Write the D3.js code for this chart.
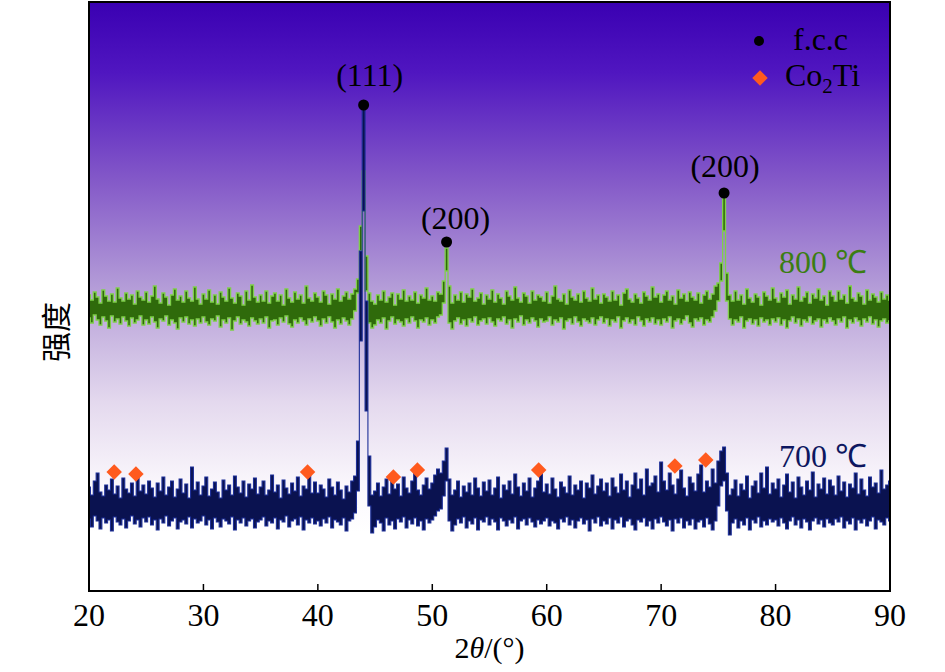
<!DOCTYPE html>
<html lang="zh">
<head>
<meta charset="UTF-8">
<script src="https://d3js.org/d3.v7.min.js"></script>
<style>
  body { margin: 0; background: #fff; }
  .serif { font-family: "Liberation Serif", "Times New Roman", serif; }
</style>
</head>
<body>
<svg id="chart" width="945" height="672"></svg>
<script>
// 2theta grid of the scans (degrees)
const twoThetaStart = 20;
const twoThetaStep = 0.25;

// 800 C scan: top and bottom edge of the noisy trace (a.u.)
const upper800 = [
  296, 291, 299, 294, 288, 301, 295, 290, 297, 289, 303, 293, 290, 298, 292, 296, 287, 300, 294, 291,
  299, 289, 295, 305, 292, 288, 298, 294, 286, 296, 302, 291, 295, 289, 300, 293, 290, 304, 292, 287,
  297, 292, 301, 289, 296, 287, 299, 294, 290, 303, 293, 288, 298, 295, 286, 300, 291, 306, 294, 289,
  296, 290, 300, 288, 295, 298, 290, 296, 286, 302, 293, 289, 299, 292, 296, 288, 305, 293, 290, 298,
  294, 289, 300, 296, 287, 297, 292, 302, 290, 295, 299, 292, 297, 302, 312, 365, 420, 335, 298, 290,
  287, 296, 291, 300, 289, 294, 298, 286, 297, 292, 301, 290, 295, 291, 299, 288, 296, 293, 303, 291,
  295, 290, 299, 297, 310, 343, 305, 288, 296, 291, 299, 289, 297, 294, 302, 290, 293, 298, 287, 296,
  292, 301, 289, 297, 293, 287, 300, 295, 291, 304, 293, 289, 298, 295, 288, 300, 291, 296, 294, 290,
  299, 288, 295, 305, 292, 290, 297, 287, 301, 294, 291, 297, 289, 300, 293, 290, 303, 292, 296, 288,
  297, 294, 290, 300, 291, 296, 286, 298, 302, 292, 289, 297, 293, 288, 299, 295, 291, 304, 294, 297,
  289, 296, 300, 291, 295, 287, 301, 293, 297, 290, 299, 294, 291, 298, 288, 296, 300, 292, 297, 305,
  308, 328, 395, 318, 296, 290, 300, 291, 296, 287, 302, 293, 289, 297, 294, 286, 299, 295, 291, 303,
  293, 289, 298, 294, 301, 287, 296, 292, 304, 290, 294, 299, 288, 297, 293, 302, 291, 295, 286, 300,
  295, 290, 300, 292, 296, 288, 305, 293, 290, 298, 295, 287, 301, 291, 297, 294, 289, 299, 292, 296,
  291
];
const lower800 = [
  273, 268, 276, 271, 266, 274, 270, 263, 275, 269, 272, 267, 274, 270, 265, 273, 268, 271, 275, 266,
  271, 267, 274, 269, 263, 272, 270, 275, 266, 271, 268, 262, 273, 269, 274, 267, 271, 265, 272, 268,
  274, 269, 266, 272, 270, 275, 264, 271, 268, 273, 261, 270, 274, 267, 271, 269, 265, 273, 270, 267,
  272, 268, 274, 263, 270, 271, 266, 273, 269, 275, 267, 264, 271, 268, 273, 270, 266, 272, 269, 274,
  270, 265, 272, 268, 274, 269, 263, 271, 267, 273, 270, 266, 272, 280, 298, 340, 380, 300, 268, 263,
  266, 271, 268, 273, 262, 270, 274, 267, 271, 269, 265, 272, 268, 274, 270, 263, 271, 269, 273, 266,
  271, 268, 274, 276, 288, 320, 268, 262, 270, 273, 267, 271, 265, 272, 269, 274, 266, 270, 272, 267,
  273, 269, 265, 272, 270, 274, 267, 271, 263, 272, 269, 275, 266, 271, 268, 273, 270, 264, 272, 269,
  270, 274, 266, 271, 269, 273, 262, 270, 272, 267, 274, 269, 265, 272, 270, 268, 273, 266, 271, 274,
  268, 272, 265, 271, 269, 274, 263, 270, 273, 268, 271, 266, 274, 270, 265, 272, 269, 273, 267, 271,
  266, 272, 269, 274, 263, 270, 272, 267, 271, 275, 268, 264, 272, 270, 273, 266, 271, 269, 274, 280,
  290, 310, 360, 290, 272, 266, 271, 269, 274, 263, 270, 272, 267, 271, 265, 273, 269, 271, 266, 272,
  269, 273, 266, 271, 263, 270, 274, 268, 272, 265, 271, 269, 274, 267, 270, 272, 264, 271, 268, 273,
  270, 266, 272, 269, 274, 263, 271, 268, 273, 270, 265, 272, 269, 274, 267, 271, 264, 270, 272, 268,
  270
];

// 700 C scan: top and bottom edge of the noisy trace (a.u.)
const upper700 = [
  104, 96, 110, 118, 99, 95, 106, 101, 112, 97, 105, 93, 113, 102, 98, 108, 95, 114, 100, 106,
  97, 110, 103, 94, 108, 100, 114, 96, 104, 110, 94, 102, 112, 98, 107, 93, 124, 101, 109, 96,
  105, 114, 95, 102, 109, 99, 93, 111, 101, 106, 96, 115, 104, 98, 110, 94, 107, 102, 113, 97,
  104, 110, 96, 101, 116, 99, 106, 93, 111, 103, 97, 108, 100, 114, 95, 105, 102, 120, 98, 109,
  98, 106, 102, 94, 112, 104, 96, 109, 101, 92, 105, 99, 110, 115, 150, 340, 486, 290, 135, 96,
  100, 108, 95, 104, 112, 97, 116, 102, 107, 95, 114, 103, 98, 110, 118, 101, 96, 106, 113, 102,
  108, 116, 122, 118, 130, 143, 112, 96, 101, 110, 94, 105, 99, 108, 96, 113, 103, 95, 109, 100,
  111, 96, 103, 114, 93, 106, 101, 110, 97, 117, 104, 95, 108, 100, 113, 94, 103, 110, 121, 99,
  107, 97, 113, 102, 94, 109, 104, 98, 115, 96, 106, 101, 110, 93, 108, 103, 116, 97, 105, 112,
  100, 108, 95, 113, 104, 98, 117, 101, 110, 94, 106, 118, 102, 112, 96, 122, 105, 108, 115, 99,
  129, 110, 101, 118, 106, 97, 112, 121, 103, 95, 114, 108, 100, 117, 126, 99, 110, 104, 122, 108,
  130, 140, 144, 118, 96, 102, 111, 95, 107, 101, 115, 93, 105, 110, 98, 118, 103, 124, 97, 108,
  102, 112, 94, 106, 117, 99, 109, 93, 114, 104, 96, 110, 101, 119, 94, 107, 102, 113, 97, 111,
  105, 96, 115, 100, 109, 94, 107, 103, 118, 97, 112, 101, 95, 114, 104, 108, 98, 121, 102, 106,
  110
];
const lower700 = [
  72, 64, 75, 70, 62, 73, 68, 71, 60, 74, 69, 66, 72, 63, 70, 75, 67, 71, 64, 73,
  69, 74, 66, 71, 61, 72, 68, 75, 65, 70, 73, 62, 69, 71, 67, 74, 63, 72, 68, 70,
  75, 66, 71, 62, 73, 69, 64, 72, 70, 67, 74, 61, 71, 68, 73, 65, 70, 72, 63, 69,
  71, 74, 65, 70, 68, 73, 62, 71, 69, 75, 64, 70, 72, 66, 74, 61, 71, 68, 73, 67,
  70, 65, 72, 68, 74, 63, 71, 69, 66, 73, 60, 70, 72, 78, 100, 250, 380, 180, 85, 58,
  64, 71, 68, 60, 73, 66, 70, 62, 72, 69, 74, 63, 71, 67, 73, 65, 70, 61, 72, 68,
  71, 75, 80, 82, 95, 110, 70, 60, 66, 72, 68, 74, 63, 70, 67, 73, 61, 71, 69, 74,
  66, 72, 69, 61, 73, 70, 65, 71, 68, 74, 62, 70, 72, 66, 73, 69, 64, 71, 67, 70,
  73, 65, 70, 68, 62, 72, 69, 74, 66, 71, 63, 70, 73, 67, 71, 60, 72, 68, 74, 65,
  70, 67, 73, 62, 71, 68, 74, 64, 70, 72, 66, 61, 71, 69, 73, 65, 70, 62, 72, 68,
  74, 69, 65, 71, 60, 72, 68, 73, 63, 70, 66, 72, 62, 69, 71, 64, 73, 67, 61, 70,
  85, 105, 110, 80, 56, 68, 72, 63, 70, 66, 73, 61, 71, 68, 74, 64, 70, 66, 72, 69,
  71, 65, 73, 68, 62, 70, 74, 66, 71, 63, 72, 69, 61, 70, 73, 67, 71, 64, 72, 68,
  66, 72, 69, 74, 63, 70, 67, 73, 61, 71, 68, 72, 65, 70, 74, 62, 71, 69, 66, 73,
  70
];

// f.c.c reflections
const fccAngle = [44.0, 51.25, 75.5];
const fccHeight = [486, 349, 398];
const fccLabel = ["(111)", "(200)", "(200)"];

// Co2Ti reflections
const co2tiAngle = [22.2, 24.1, 39.1, 46.6, 48.7, 59.3, 71.2, 73.9];
const co2tiHeight = [119, 117, 119, 114, 121, 121, 125, 131];

const xTicks = [20, 30, 40, 50, 60, 70, 80, 90];

const margin = { top: 2, right: 55, bottom: 81, left: 89 };
const W = 945, H = 672;
const width = W - margin.left - margin.right;
const height = H - margin.top - margin.bottom;

const svg = d3.select("#chart");

// background gradient
const defs = svg.append("defs");
const grad = defs.append("linearGradient")
  .attr("id", "bg").attr("x1", 0).attr("y1", 0).attr("x2", 0).attr("y2", 1);
[[0, "#3a00b2"], [0.12, "#5016c0"], [0.3, "#8358c8"], [0.5, "#b8a2d9"],
 [0.68, "#e4d9ee"], [0.82, "#faf7fc"], [0.9, "#ffffff"]].forEach(s => {
  grad.append("stop").attr("offset", s[0]).attr("stop-color", s[1]);
});

const g = svg.append("g").attr("transform", `translate(${margin.left},${margin.top})`);

g.append("rect").attr("width", width).attr("height", height).attr("fill", "url(#bg)");

const x = d3.scaleLinear().domain([20, 90]).range([0, width]);
const y = d3.scaleLinear().domain([0, 589]).range([height, 0]);

const angleAt = i => twoThetaStart + i * twoThetaStep;

function band(upper, lower) {
  return upper.map((u, i) => ({ a: angleAt(i), hi: u, lo: lower[i] }));
}
const area = d3.area()
  .curve(d3.curveStep)
  .x(d => x(d.a))
  .y0(d => y(d.lo))
  .y1(d => y(d.hi));

// 800 C
g.append("path").datum(band(upper800, lower800)).attr("d", area)
  .attr("fill", "#2f6a0b").attr("stroke", "#7fcf4a").attr("stroke-width", 1.3);

// 700 C
g.append("path").datum(band(upper700, lower700)).attr("d", area)
  .attr("fill", "#0a1250").attr("stroke", "#1d2f98").attr("stroke-width", 1.1);

// f.c.c markers + labels
const labelDy = [-13, -7, -10];
const labelDx = [6, 9, 1];
fccAngle.forEach((a, i) => {
  g.append("circle").attr("cx", x(a)).attr("cy", y(fccHeight[i])).attr("r", 5.5).attr("fill", "#000");
  g.append("text").attr("class", "serif")
    .attr("x", x(a) + labelDx[i])
    .attr("y", y(fccHeight[i]) + labelDy[i] - 6)
    .attr("text-anchor", "middle")
    .attr("font-size", 32)
    .attr("fill", "#000")
    .text(fccLabel[i]);
});

// Co2Ti markers
const diamond = d3.symbol().type(d3.symbolSquare).size(120);
g.selectAll(".co2ti").data(co2tiAngle).enter().append("path")
  .attr("class", "co2ti")
  .attr("d", diamond)
  .attr("fill", "#ff5a1e")
  .attr("transform", (d, i) => `translate(${x(d)},${y(co2tiHeight[i])}) rotate(45)`);

// series labels
g.append("text").attr("class", "serif").attr("x", 690).attr("y", 271)
  .attr("font-size", 32).attr("fill", "#3b7d12").text("800 ℃");
g.append("text").attr("class", "serif").attr("x", 690).attr("y", 465)
  .attr("font-size", 32).attr("fill", "#0d1660").text("700 ℃");

// legend
g.append("circle").attr("cx", 670).attr("cy", 39).attr("r", 5).attr("fill", "#000");
g.append("text").attr("class", "serif").attr("x", 704).attr("y", 48)
  .attr("font-size", 32).attr("fill", "#000").text("f.c.c");
g.append("path").attr("d", diamond).attr("fill", "#ff5a1e")
  .attr("transform", "translate(671,76) rotate(45)");
const co = g.append("text").attr("class", "serif").attr("x", 696).attr("y", 84)
  .attr("font-size", 32).attr("fill", "#000");
co.append("tspan").text("Co");
co.append("tspan").attr("font-size", 21).attr("dy", 7).text("2");
co.append("tspan").attr("dy", -7).text("Ti");

// x axis ticks (inward)
g.selectAll(".xtick").data(xTicks.slice(1, -1)).enter().append("line")
  .attr("class", "xtick")
  .attr("x1", d => x(d)).attr("x2", d => x(d))
  .attr("y1", height).attr("y2", height - 7)
  .attr("stroke", "#000").attr("stroke-width", 1.5);

g.selectAll(".xlab").data(xTicks).enter().append("text")
  .attr("class", "xlab serif")
  .attr("x", d => x(d)).attr("y", height + 35)
  .attr("text-anchor", "middle")
  .attr("font-size", 32).attr("fill", "#000")
  .text(d => d);

// frame
g.append("rect").attr("width", width).attr("height", height)
  .attr("fill", "none").attr("stroke", "#000").attr("stroke-width", 2);

// axis titles
const xt = svg.append("text").attr("class", "serif")
  .attr("x", margin.left + width / 2).attr("y", 658)
  .attr("text-anchor", "middle")
  .attr("font-size", 30).attr("fill", "#000");
xt.append("tspan").text("2");
xt.append("tspan").attr("font-style", "italic").text("θ");
xt.append("tspan").text("/(°)");

svg.append("text")
  .attr("transform", "translate(54,332) rotate(-90)")
  .attr("text-anchor", "middle").attr("dominant-baseline", "central")
  .style("font-family", "'Noto Sans CJK SC', sans-serif")
  .attr("font-size", 30).attr("fill", "#000")
  .text("强度");
</script>
</body>
</html>
